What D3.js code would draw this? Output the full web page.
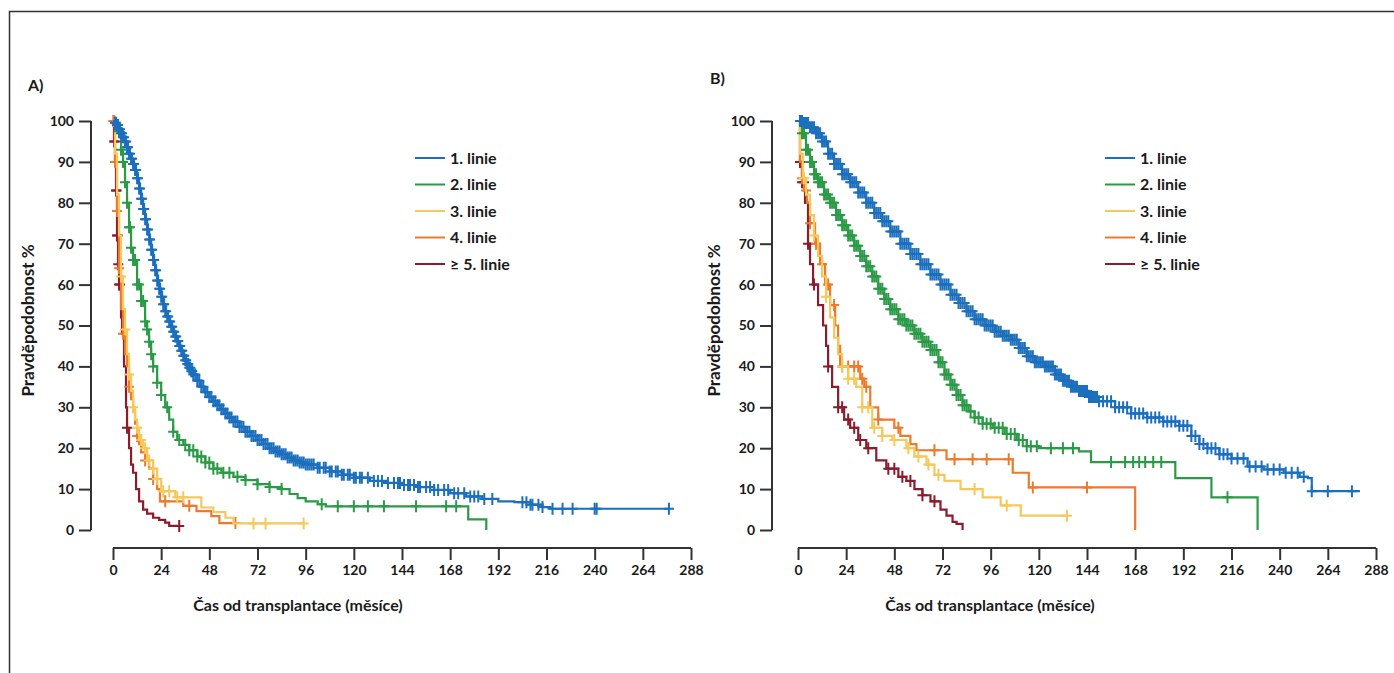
<!DOCTYPE html>
<html>
<head>
<meta charset="utf-8">
<script src="https://cdnjs.cloudflare.com/ajax/libs/d3/7.8.5/d3.min.js"></script>
<style>
  body { margin: 0; background: #fff; }
  svg text { font-family: Lato, "Open Sans", sans-serif; font-weight: bold; fill: #1a1a1a; }
  .axis path, .axis line { stroke: #333; stroke-width: 2; }
  .axis text { font-size: 14px; }
</style>
</head>
<body>
<svg id="chart" width="1394" height="673"></svg>
<script>
// series names + colours
var seriesNames = ["1. linie", "2. linie", "3. linie", "4. linie", "\u2265 5. linie"];
var seriesColors = ["#1b6fbd", "#2a9a46", "#f5c85a", "#ec7a2d", "#8c1c2b"];

var xTicks = [0, 24, 48, 72, 96, 120, 144, 168, 192, 216, 240, 264, 288];
var yTicks = [0, 10, 20, 30, 40, 50, 60, 70, 80, 90, 100];

// ---- Panel A: [month, survival %] at each step ----
var blueA = [[0,100],[1,99.6],[2,99],[3,98],[4,97],[5,96],[6,95],[7,93.6],[8,92],[9,90.8],[10,89.5],[11,88],[12,86],[13,83.5],[14,81],[15,78.5],[16,76],[17,73.5],[18,71],[19,68.5],[20,66],[21,63.5],[22,61],[23,59],[24,57],[25,55.2],[26,53.5],[27,52.2],[28,51],[29,49.7],[30,48.5],[31,47.3],[32,46.2],[33,45],[34,43.8],[35,42.6],[36,41.5],[37,40.6],[38,39.7],[39,38.8],[40,38],[42,36.5],[44,35],[46,33.7],[48,32.5],[50,31.5],[52,30.5],[54,29.5],[56,28.5],[58,27.5],[60,26.5],[63,25.2],[66,24],[69,23],[72,22],[75,21],[78,20],[81,19.2],[84,18.5],[87,17.7],[90,17],[93,16.5],[96,16],[102,15.2],[108,14.3],[114,13.5],[120,12.8],[128,12],[136,11.5],[144,11],[152,10.5],[160,9.8],[168,9],[176,8.2],[184,7.6],[192,7],[200,6.8],[208,6.2],[214,5.6],[218,5.2],[277,5.2]];
var greenA = [[0,100],[2,97.5],[4,93],[5,90],[6,85],[7,80],[8,74],[9,69],[10,66],[12,60],[14,56],[16,51],[17,49],[18,46],[19,43],[20,40],[22,36],[24,33],[26,30],[28,27],[30,24],[32,22],[35,20.8],[38,19.5],[42,18],[46,16.5],[50,15],[54,14],[60,13],[66,12.2],[72,11.2],[78,10.5],[84,10],[88,8.8],[92,7.8],[96,7],[102,6.3],[106,5.8],[177,2.6],[186,0]];
var yellowA = [[0,100],[1,92],[2,82],[3,72],[4,62],[5,54],[6,49],[7,43],[8,38],[9,34],[10,30],[11,27],[12,25],[13,22],[15,20],[17,17],[20,15],[22,12.5],[24,9.5],[31,8],[44,5.5],[50,4.4],[56,3],[60,1.6],[95,1.6]];
var orangeA = [[0,100],[1,90],[2,78],[3,64],[4,54],[5,48],[6,43],[7,40],[8,35],[9,32],[10,29],[11,26],[12,23],[13,21],[14,19],[16,17],[18,15],[20,12.5],[22,10],[23.4,7],[35,5.9],[41.6,4.6],[49,3.4],[53,1.7],[61,1.7]];
var redA = [[0,100],[0.5,95],[1,90],[1.5,83],[2,72],[2.5,65],[3,60],[4,52],[4.5,48],[5.5,40],[6.5,30],[7,25],[8,20],[9,16],[10,14],[11.5,10],[13,7],[15,5],[17,4],[20,3],[23,2.5],[26,1.8],[28,1],[33,1]];

// censored times (months)
var blueACens = [1,1.5,2,2.5,3,3.5,4,4.5,5,5.5,6,6.5,7,7.5,8,8.5,9,9.5,10,10.5,11,11.5,12,12.5,13,13.5,14,14.5,15,15.5,16,16.5,17,17.5,18,18.5,19,19.5,20,20.5,21,21.5,22,22.5,23,23.5,24,24.5,25,25.5,26,26.5,27,27.5,28,28.5,29,29.5,30,30.5,31,31.5,32,32.5,33,33.5,34,34.5,35,35.5,36,36.5,37,37.5,38,38.5,39,39.5,40,41,42,43,44,45,46,47,48,49,50,51,52,53,54,55,56,57,58,59,60,61,62,63,64,65,66,67,68,69,70,71,72,73,74,75,76,77,78,79,80,81,82,83,84,85,86,87,88,89,90,91,92,93,94,95,96,97,98,99,100,102,103,105,106,108,109,111,112,114,115,117,118,120,121,123,124,127,130,132,134,137,140,142,143,145,147,148,150,152,153,156,158,160,162,165,167,170,172,175,178,180,182,185,189,204,206,208,209,212,214,219,224,229,240,241,277];
var greenACens = [3,4,5,6,7,8,8.5,9,10,11,12,13,14,15,16,17,18,19,20,22,24,27,30,33,36,38,40,42,44,46,48,50,52,55,58,62,66,72,78,84,104,112,120,127,135,151,166,171];
var yellowACens = [4,6,8,10,12,14,16,18,20,22,25,28,32,35,70,76,95];
var orangeACens = [0.5,1,2,3,5,8,12,16,20,26,38,61];
var redACens = [0.3,0.6,0.9,1.2,1.5,1.8,2,2.3,2.6,3,3.5,7,33];

// ---- Panel B ----
var blueB = [[0,100],[3,99.5],[6,98.5],[9,97],[12,95],[15,92],[18,89.5],[22,87],[26,85],[30,82.5],[34,80],[38,77.5],[42,75.5],[46,73],[51,70],[56,67.5],[61,65],[66,62.5],[71,60],[76,57.5],[80,55.5],[84,53.5],[88,51.5],[93,50],[98,48.5],[102,47.5],[106,46.5],[110,44.5],[114,42.5],[118,41],[123,40],[128,38],[132,36.5],[136,35],[140,34],[145,32.5],[150,31.5],[158,30],[166,28.5],[174,27.5],[182,26.5],[190,25.5],[196,23],[200,21],[204,20],[210,18.5],[216,17.5],[224,15.5],[232,14.8],[242,14],[250,13],[254,12.7],[256,9.5],[280,9.5]];
var greenB = [[0,100],[2,97],[4,93],[6,90],[8,87],[10,85],[13,82],[16,80],[19,77],[22,74.5],[25,72],[28,69.5],[31,67],[34,64.5],[37,62],[40,59],[43,56.5],[46,54],[50,51.5],[54,50],[58,48],[62,46],[66,44],[70,41],[73,38],[76,35.5],[79,33],[82,30.5],[85,29],[88,27.5],[92,26],[97,25],[103,23.5],[109,22],[114,20.5],[120,20],[140,19.2],[146,16.6],[188,12.7],[206,8],[229,0]];
var yellowB = [[0,100],[1,92],[2.5,86],[4,82],[6,77],[8,72],[10,67],[12,62],[14,57],[16,52],[18,47],[20,43],[22,40],[25,37],[29,35],[32,30],[37,25],[42,23],[47,22],[54,20],[58,18],[64,16],[68,13.5],[73,12],[81,10],[92,8],[101,6],[111,3.5],[134,3.5]];
var orangeB = [[0,100],[1,90],[2,86],[3,83],[4.5,80],[6,75],[8.5,70],[11,65],[13.5,60],[16,55],[18.5,50],[20,45],[21,40],[31,37],[33,35],[36,30],[40,27],[48,25],[51,23],[56,21],[59,19.5],[74,17.3],[107,14],[115,10.4],[168,0]];
var redB = [[0,100],[1,90],[2,85],[3.5,80],[5,70],[6,65],[7.5,60],[10,55],[12.5,50],[14,45],[15,40],[17,35],[20,30],[23,27],[26,25],[30,22],[34,20],[39,17],[44,15],[50,13],[54,12],[58,10],[62,8.5],[66,7],[71,5],[74,3.5],[77,2],[79,1.5],[82,0]];

var blueBCens = [1,2,3,4,5,6,7,8,9,10,11,12,13,14,15,16,17,18,19,20,21,22,23,24,25,26,27,28,29,30,31,32,33,34,35,36,37,38,39,40,41,42,43,44,45,46,47,48,49,50,51,52,53,54,55,56,57,58,59,60,61,62,63,64,65,66,67,68,69,70,71,72,73,74,75,76,77,78,79,80,81,82,83,84,85,86,87,88,89,90,91,92,93,94,95,96,97,98,99,100,101,102,103,104,105,106,107,108,109,110,111,112,113,114,115,116,117,118,119,120,121,122,123,124,125,126,127,128,129,130,131,132,133,134,135,136,137,138,139,140,141,142,143,144,145,146,147,148,149,150,152,154,156,158,160,162,164,166,168,170,172,174,176,178,180,182,184,186,188,190,192,194,196,198,200,202,204,206,208,210,212,214,216,219,222,225,228,231,234,237,240,243,246,249,252,256,264,276];
var greenBCens = [2,3,4,5,6,7,8,9,10,11,12,13,14,15,16,17,18,19,20,21,22,23,24,25,26,27,28,29,30,31,32,33,34,35,36,37,38,39,40,41,42,43,44,45,46,47,48,49,50,51,52,53,54,55,56,57,58,59,60,61,62,63,64,65,66,67,68,69,70,71,72,73,74,75,76,77,78,79,80,81,82,83,84,86,88,90,92,94,96,98,100,102,104,106,108,110,112,114,116,119,126,132,137,156,163,167,170,173,177,181,214];
var yellowBCens = [3,8,14,22,25,28,32,35,38,42,48,55,60,65,70,88,104,134];
var orangeBCens = [2,4,6,9,12,15,18,22,25,28,30,32,34,40,50,68,78,87,94,105,117,144];
var redBCens = [1,2,3,5,8,15,20,22,25,28,31,35,45,48,52,56,62,68];

var panels = [
  { label: "A)", labelX: 28, labelY: 91, x0: 113, y0: 121, axisX: 91,
    titleX: 298, yTitleX: 34, legendX: 415,
    curves: [blueA, greenA, yellowA, orangeA, redA],
    cens: [blueACens, greenACens, yellowACens, orangeACens, redACens] },
  { label: "B)", labelX: 710, labelY: 84, x0: 798, y0: 121, axisX: 772,
    titleX: 990, yTitleX: 720, legendX: 1105,
    curves: [blueB, greenB, yellowB, orangeB, redB],
    cens: [blueBCens, greenBCens, yellowBCens, orangeBCens, redBCens] }
];

var svg = d3.select("#chart");

// outer frame (runs past the right and bottom edges)
svg.append("rect")
  .attr("x", 9.5).attr("y", 11.5)
  .attr("width", 1400).attr("height", 700)
  .attr("fill", "none").attr("stroke", "#333").attr("stroke-width", 1.5);

// stepped value at time t
function survAt(curve, t) {
  var v = curve[0][1];
  for (var i = 0; i < curve.length; i++) {
    if (curve[i][0] <= t) v = curve[i][1]; else break;
  }
  return v;
}

panels.forEach(function(p) {
  var x = d3.scaleLinear().domain([0, 288]).range([p.x0, p.x0 + 578]);
  var y = d3.scaleLinear().domain([0, 100]).range([p.y0 + 409, p.y0]);

  var g = svg.append("g");

  g.append("text").attr("x", p.labelX).attr("y", p.labelY)
    .style("font-size", "16px").text(p.label);

  // y axis
  g.append("g").attr("class", "axis")
    .attr("transform", "translate(" + p.axisX + ",0)")
    .call(d3.axisLeft(y).tickValues(yTicks).tickSize(12).tickSizeOuter(0).tickPadding(5))
    .call(function(a) { a.select(".domain").attr("d", "M0," + y(0) + "V" + y(100)); });

  // x axis, dropped below the plot
  g.append("g").attr("class", "axis")
    .attr("transform", "translate(0," + (y(0) + 18) + ")")
    .call(d3.axisBottom(x).tickValues(xTicks).tickSize(12).tickSizeOuter(0).tickPadding(5))
    .call(function(a) { a.select(".domain").attr("d", "M" + x(0) + ",0H" + x(288)); });

  g.append("text").attr("x", p.titleX).attr("y", 611)
    .attr("text-anchor", "middle").style("font-size", "16px")
    .text("\u010cas od transplantace (m\u011bs\u00edce)");

  g.append("text")
    .attr("transform", "translate(" + p.yTitleX + "," + (y(50) - 5) + ") rotate(-90)")
    .attr("text-anchor", "middle").style("font-size", "17px")
    .text("Pravd\u011bpodobnost %");

  var line = d3.line()
    .x(function(d) { return x(d[0]); })
    .y(function(d) { return y(d[1]); })
    .curve(d3.curveStepAfter);

  // draw from last series to first so blue sits on top
  d3.range(p.curves.length - 1, -1, -1).forEach(function(i) {
    var c = p.curves[i], col = seriesColors[i];
    g.append("path").datum(c)
      .attr("d", line)
      .attr("fill", "none").attr("stroke", col).attr("stroke-width", 2.2);

    g.selectAll(null).data(p.cens[i]).enter().append("path")
      .attr("d", function(t) {
        var cx = x(t), cy = y(survAt(c, t));
        return "M" + cx + "," + (cy - 6) + "V" + (cy + 6) + "M" + (cx - 5) + "," + cy + "H" + (cx + 5);
      })
      .attr("stroke", col).attr("stroke-width", 2).attr("fill", "none");
  });

  // legend
  var leg = g.append("g");
  seriesNames.forEach(function(name, i) {
    var ly = 158 + i * 26.5;
    leg.append("line")
      .attr("x1", p.legendX).attr("x2", p.legendX + 30)
      .attr("y1", ly).attr("y2", ly)
      .attr("stroke", seriesColors[i]).attr("stroke-width", 2);
    leg.append("text").attr("x", p.legendX + 35).attr("y", ly + 5.5)
      .style("font-size", "16px").text(name);
  });
});
</script>
</body>
</html>
